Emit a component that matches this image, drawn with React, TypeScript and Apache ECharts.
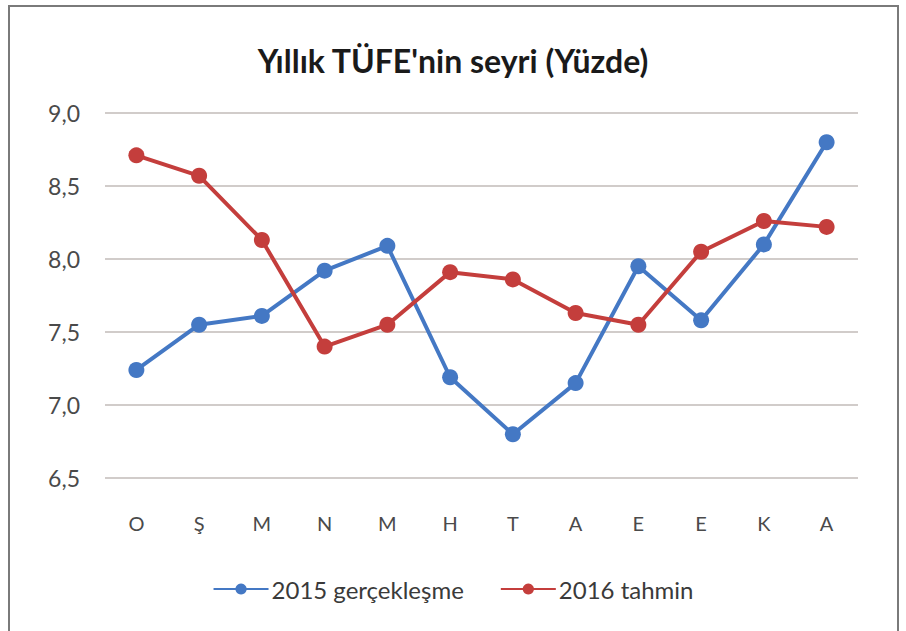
import React, { useEffect, useRef } from "react";
import * as echarts from "echarts";

const categories = ["O", "Ş", "M", "N", "M", "H", "T", "A", "E", "E", "K", "A"];
const series2015 = [7.24, 7.55, 7.61, 7.92, 8.09, 7.19, 6.8, 7.15, 7.95, 7.58, 8.1, 8.8];
const series2016 = [8.71, 8.57, 8.13, 7.4, 7.55, 7.91, 7.86, 7.63, 7.55, 8.05, 8.26, 8.22];
const seriesNames = ["2015 gerçekleşme", "2016 tahmin"];
const titleText = "Yıllık TÜFE'nin seyri (Yüzde)";

const BLUE = "#4478C4";
const RED = "#C43E3C";
const FONT = "Lato";

export default function App() {
  const ref = useRef<HTMLDivElement>(null);
  useEffect(() => {
    if (!ref.current) return;
    const chart = echarts.init(ref.current, undefined, { renderer: "svg" });
    chart.setOption({
      animation: false,
      backgroundColor: "#ffffff",
      textStyle: { fontFamily: FONT },
      title: {
        text: titleText,
        left: "center",
        top: 39,
        textStyle: { fontFamily: FONT, fontSize: 32, fontWeight: "bold", color: "#1a1a1a" },
      },
      graphic: [
        {
          type: "rect",
          shape: { x: 9, y: 6, width: 889, height: 650 },
          style: { fill: "none", stroke: "#7a7a7a", lineWidth: 2 },
          silent: true,
        },
      ],
      legend: {
        top: 572,
        left: "center",
        itemWidth: 55,
        itemHeight: 14,
        itemGap: 36,
        textStyle: { fontFamily: FONT, fontSize: 24, color: "#3a3a3a", padding: [0, 0, 0, -2] },
        data: seriesNames,
      },
      grid: { left: 105, right: 48, top: 113, bottom: 153, containLabel: false },
      xAxis: {
        type: "category",
        data: categories,
        boundaryGap: true,
        axisLine: { show: false },
        axisTick: { show: false },
        axisLabel: { margin: 35, fontSize: 20, color: "#4a4a4a", fontFamily: FONT },
      },
      yAxis: {
        type: "value",
        min: 6.5,
        max: 9.0,
        interval: 0.5,
        axisLine: { show: false },
        axisTick: { show: false },
        splitLine: { lineStyle: { color: "#C2BBB8", width: 1.6 } },
        axisLabel: {
          margin: 25,
          fontSize: 23,
          color: "#4a4a4a",
          fontFamily: FONT,
          formatter: (v: number) => v.toFixed(1).replace(".", ","),
        },
      },
      series: [
        {
          name: seriesNames[0],
          type: "line",
          data: series2015,
          color: BLUE,
          symbol: "circle",
          symbolSize: 16,
          lineStyle: { width: 4, color: BLUE },
          itemStyle: { color: BLUE },
        },
        {
          name: seriesNames[1],
          type: "line",
          data: series2016,
          color: RED,
          symbol: "circle",
          symbolSize: 16,
          lineStyle: { width: 4, color: RED },
          itemStyle: { color: RED },
        },
      ],
    });
    return () => chart.dispose();
  }, []);
  return (
    <div
      ref={ref}
      style={{ position: "fixed", left: 0, top: 0, width: 906, height: 631 }}
    />
  );
}
